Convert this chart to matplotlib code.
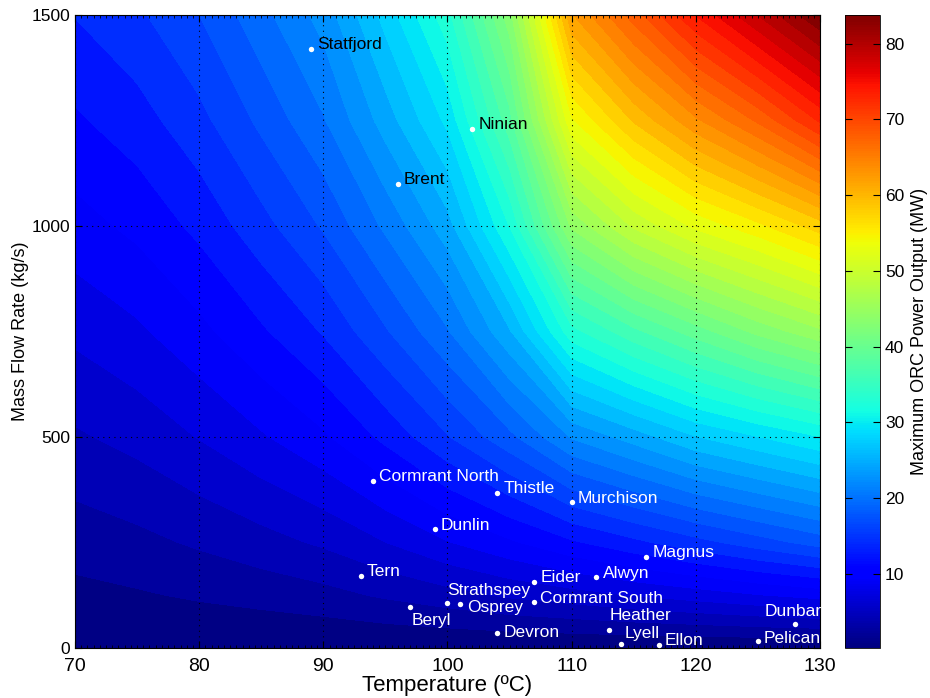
import numpy as np
import matplotlib
matplotlib.use("Agg")
import matplotlib.pyplot as plt
from matplotlib.colors import Normalize
from matplotlib.cm import ScalarMappable
from matplotlib.ticker import MultipleLocator

# grid of the power map (MW)
temps_grid = [70, 75, 80, 85, 90, 95, 100, 105, 110, 115, 120, 125, 130]
flows_grid = [0, 125, 250, 500, 750, 1000, 1250, 1500]
power_mw = [
    [0, 0, 0, 0, 0, 0, 0, 0, 0, 0, 0, 0, 0],
    [1.2, 1.5, 1.9, 2.3, 2.8, 3.6, 4.4, 5.3, 6.0, 6.8, 7.5, 8.3, 9.0],
    [2.4, 2.9, 3.6, 4.4, 5.3, 6.7, 8.3, 9.8, 11.5, 13.0, 14.5, 16.0, 17.5],
    [4.8, 5.6, 6.8, 8.2, 9.8, 12.2, 15.0, 18.0, 22.0, 24.3, 26.8, 28.5, 30.2],
    [7.1, 8.1, 9.6, 11.5, 13.6, 16.6, 20.0, 25.0, 33.0, 36.5, 39.5, 42.5, 45.0],
    [9.4, 10.5, 12.2, 14.5, 17.0, 20.5, 24.5, 32.0, 44.0, 49.0, 52.5, 55.0, 58.0],
    [11.5, 12.7, 14.6, 17.2, 20.0, 24.3, 29.0, 38.0, 53.5, 59.0, 63.5, 67.5, 72.5],
    [13.5, 14.8, 16.8, 19.6, 22.5, 27.5, 33.0, 43.0, 62.0, 68.0, 74.0, 79.0, 84.0],
]

# oil fields
fields = ["Statfjord", "Ninian", "Brent", "Cormrant North", "Thistle", "Murchison",
          "Dunlin", "Magnus", "Tern", "Eider", "Alwyn", "Cormrant South", "Strathspey",
          "Osprey", "Beryl", "Devron", "Heather", "Lyell", "Ellon", "Pelican", "Dunbar"]
field_temp = [89, 102, 96, 94, 104, 110, 99, 116, 93, 107, 112, 107, 100,
              101, 97, 104, 113, 114, 117, 125, 128]
field_flow = [1420, 1230, 1100, 396, 368, 345, 281, 216, 171, 157, 168, 109, 107,
              104, 98, 36, 42, 9, 8, 17, 57]

dark_labels = ["Statfjord", "Ninian", "Brent"]
# label offsets in pixels (dx, dy), default is to the right of the dot
label_offset = {"Strathspey": (0, 12), "Beryl": (1, -14), "Heather": (1, 15),
                "Dunbar": (-31, 12), "Lyell": (3, 11), "Osprey": (7, -3),
                "Devron": (6, 0), "Pelican": (6, 2)}

vmin, vmax = 0.2, 83.8

fig = plt.figure(figsize=(9.3, 6.98), dpi=100)
ax = fig.add_axes([75 / 930, 1 - 648 / 698, 745 / 930, 633 / 698])
cax = fig.add_axes([845 / 930, 1 - 648 / 698, 35 / 930, 633 / 698])

norm = Normalize(vmin=vmin, vmax=vmax)
levels = np.linspace(0, 84, 51)
ax.contourf(temps_grid, flows_grid, np.array(power_mw), levels=levels,
            cmap="jet", norm=norm, antialiased=False)

ax.scatter(field_temp, field_flow, s=15, color="white", zorder=5, linewidths=0)
for name, t, m in zip(fields, field_temp, field_flow):
    dx, dy = label_offset.get(name, (6, 4))
    col = "black" if name in dark_labels else "white"
    ax.annotate(name, (t, m), xytext=(dx, dy), textcoords="offset pixels",
                ha="left", va="center", color=col, fontsize=12.5,
                family=["Liberation Sans", "DejaVu Sans"], zorder=6)

ax.set_xlim(70, 130)
ax.set_ylim(0, 1500)
ax.set_xticks(range(70, 131, 10))
ax.set_yticks([0, 500, 1000, 1500])
ax.xaxis.set_minor_locator(MultipleLocator(0.5))
ax.tick_params(which="both", direction="in", top=True, right=True)
ax.tick_params(which="major", length=5)
ax.tick_params(which="minor", length=2)
ax.tick_params(axis="x", which="major", pad=7)
ax.grid(True, which="major", color="black", linestyle=(0, (1, 4)), linewidth=0.8)
ax.set_axisbelow(False)

for lab in ax.get_xticklabels():
    lab.set_family(["Liberation Sans Narrow", "Liberation Sans"])
    lab.set_fontsize(14)
for lab in ax.get_yticklabels():
    lab.set_family(["Liberation Sans", "DejaVu Sans"])
    lab.set_fontsize(12.5)

ax.set_xlabel("Temperature (ºC)", fontsize=16, labelpad=0,
              family=["Liberation Sans Narrow", "Liberation Sans"])
ax.set_ylabel("Mass Flow Rate (kg/s)", fontsize=13, labelpad=2,
              family=["Liberation Sans", "DejaVu Sans"])

cb = fig.colorbar(ScalarMappable(norm=norm, cmap="jet"), cax=cax)
cb.set_ticks(range(10, 81, 10))
cb.ax.tick_params(direction="in", length=5, left=True, right=True, labelsize=12.5)
for lab in cb.ax.get_yticklabels():
    lab.set_family(["Liberation Sans", "DejaVu Sans"])
cb.set_label("Maximum ORC Power Output (MW)", fontsize=13,
             family=["Liberation Sans", "DejaVu Sans"], labelpad=5)
cb.outline.set_linewidth(0.6)

fig.savefig("out.png", dpi=100)
